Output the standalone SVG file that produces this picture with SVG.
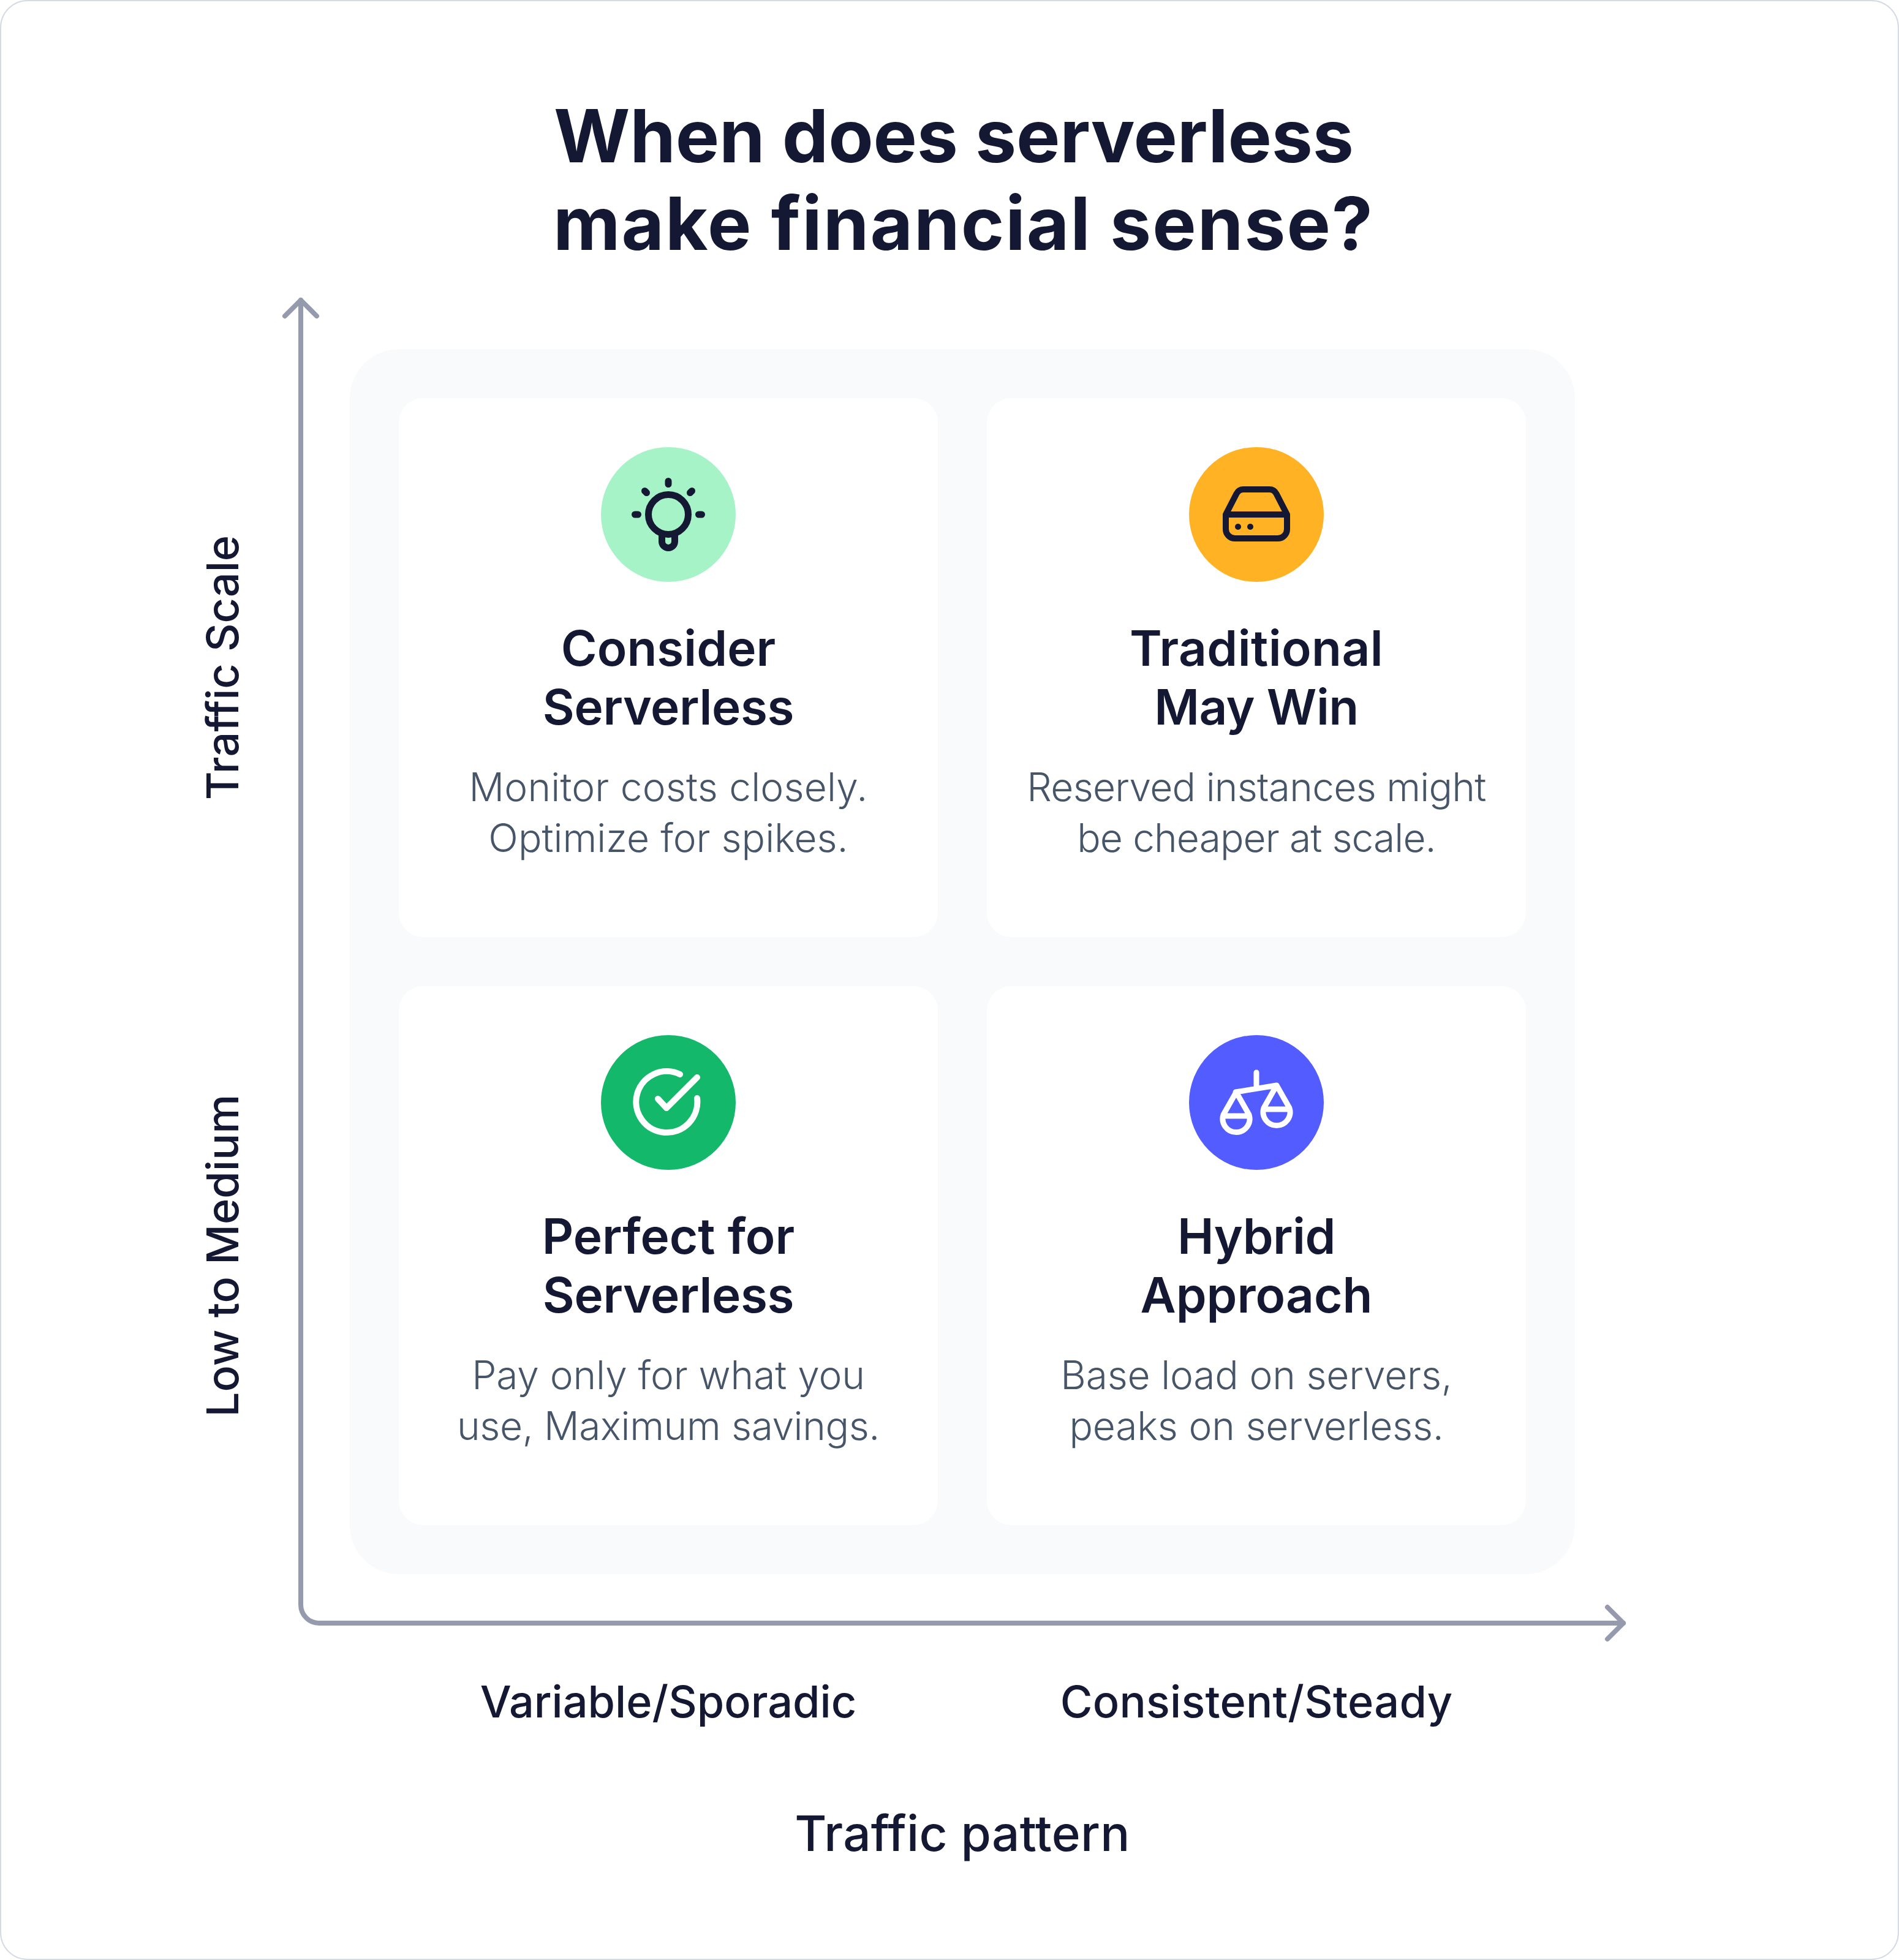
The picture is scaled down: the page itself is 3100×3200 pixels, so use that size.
<svg xmlns="http://www.w3.org/2000/svg" width="3100" height="3200" viewBox="0 0 3100 3200">
<style>
text{font-family:Inter,"Liberation Sans",sans-serif;text-anchor:middle}
.title{font-size:120px;font-weight:700;fill:#151833}
.h{font-size:80px;font-weight:600;fill:#151833}
.d{font-size:64px;font-weight:300;fill:#475569}
.a{font-size:72px;font-weight:500;fill:#151833}
.b{font-size:80px;font-weight:500;fill:#151833}
.ax{fill:none;stroke:#959bad;stroke-width:8;stroke-linecap:round;stroke-linejoin:round}
.card{fill:#fff}
.dk{fill:none;stroke:#151833;stroke-width:11;stroke-linecap:round;stroke-linejoin:round}
.sv{fill:none;stroke:#151833;stroke-width:10;stroke-linecap:round;stroke-linejoin:round}
.wh{fill:none;stroke:#fff;stroke-width:10;stroke-linecap:round;stroke-linejoin:round}
.wh2{fill:none;stroke:#fff;stroke-width:9;stroke-linecap:round;stroke-linejoin:round}
</style>
<rect x="1" y="1" width="3098" height="3198" rx="44" fill="#fff" stroke="#d6dae6" stroke-width="2"/>
<g id="title"><text class="title" x="1557" y="265" textLength="1306">When does serverless</text><text class="title" x="1572" y="408" textLength="1338">make financial sense?</text></g>
<rect id="panel" x="571" y="570" width="2000" height="2000" rx="80" fill="#f9fafb"/>
<g id="connectors">
<path class="ax" d="M491 490V2620a30 30 0 0 0 30 30H2650"/>
<path class="ax" d="M465 516L491 490L517 516"/>
<path class="ax" d="M2624 2624L2650 2650L2624 2676"/>
</g>
<g id="node-consider">
<rect class="card" x="651" y="650" width="880" height="880" rx="40"/>
<circle cx="1091" cy="840" r="110" fill="#a7f3c8"/>
<circle class="dk" cx="1091" cy="840" r="32.5"/>
<path class="dk" d="M1091 785.500V790.500M1036.500 840H1041.500M1140.500 840H1145.500M1052.500 801.500L1055.500 804.500M1129.500 801.500L1126.500 804.500M1080.500 872V884a10.500 10.500 0 0 0 21 0V872"/>
<text class="h" x="1091" y="1087">Consider</text><text class="h" x="1091" y="1183" letter-spacing="-0.4">Serverless</text>
<text class="d" x="1091" y="1308" letter-spacing="0.2">Monitor costs closely.</text><text class="d" x="1091" y="1391">Optimize for spikes.</text>
</g>
<g id="node-traditional">
<rect class="card" x="1611" y="650" width="880" height="880" rx="40"/>
<circle cx="2051" cy="840" r="110" fill="#ffb224"/>
<path class="sv" d="M2001 840V864a15 15 0 0 0 15 15H2086a15 15 0 0 0 15 -15V840ZM2001 840L2018.500 806Q2022 799 2030 799H2072Q2080 799 2083.500 806L2101 840"/>
<circle cx="2021" cy="860" r="5" fill="#151833"/><circle cx="2041" cy="860" r="5" fill="#151833"/>
<text class="h" x="2051" y="1087" letter-spacing="0.4">Traditional</text><text class="h" x="2051" y="1183" letter-spacing="-0.5">May Win</text>
<text class="d" x="2051" y="1308" letter-spacing="-0.73">Reserved instances might</text><text class="d" x="2051" y="1391" letter-spacing="-0.9">be cheaper at scale.</text>
</g>
<g id="node-perfect">
<rect class="card" x="651" y="1610" width="880" height="880" rx="40"/>
<circle cx="1091" cy="1800" r="110" fill="#14b86a"/>
<path class="wh" d="M1110 1754A50 50 0 1 0 1138 1793M1074 1794L1088 1809L1138 1759"/>
<text class="h" x="1091" y="2047">Perfect for</text><text class="h" x="1091" y="2143" letter-spacing="-0.4">Serverless</text>
<text class="d" x="1091" y="2268" letter-spacing="-0.1">Pay only for what you</text><text class="d" x="1091" y="2351" letter-spacing="-0.38">use, Maximum savings.</text>
</g>
<g id="node-hybrid">
<rect class="card" x="1611" y="1610" width="880" height="880" rx="40"/>
<circle cx="2051" cy="1800" r="110" fill="#535cff"/>
<path class="wh2" d="M2051 1751V1776M2017 1783L2084 1772M2018 1783L1997 1820A22 22 0 1 0 2039 1820ZM2001 1822H2035M2084 1772L2063 1809A22 22 0 1 0 2105 1809ZM2067 1811H2101"/>
<text class="h" x="2051" y="2047" letter-spacing="-0.5">Hybrid</text><text class="h" x="2051" y="2143">Approach</text>
<text class="d" x="2051" y="2268" letter-spacing="-0.19">Base load on servers,</text><text class="d" x="2051" y="2351" letter-spacing="-0.2">peaks on serverless.</text>
</g>
<g id="axis-labels">
<text class="a" transform="translate(389 1090) rotate(-90)">Traffic Scale</text>
<text class="a" transform="translate(389 2050) rotate(-90)">Low to Medium</text>
<text class="a" x="1091" y="2804">Variable/Sporadic</text>
<text class="a" x="2051" y="2804" letter-spacing="0.25">Consistent/Steady</text>
<text class="b" x="1571" y="3022" letter-spacing="0.27">Traffic pattern</text>
</g>
</svg>
